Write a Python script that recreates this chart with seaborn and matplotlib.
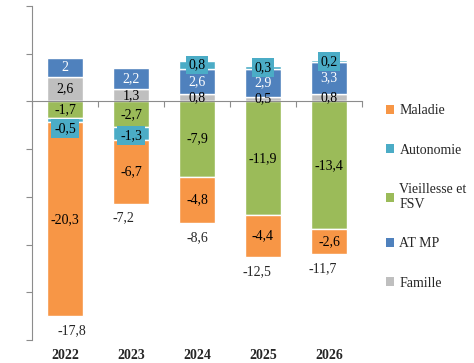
"""Stacked bars: balance by branch, 2022-2026."""

import matplotlib.pyplot as plt
import matplotlib.transforms as mtransforms
import numpy as np
import pandas as pd
import seaborn as sns
from matplotlib.patches import Patch

years = ["2022", "2023", "2024", "2025", "2026"]
famille = [2.6, 1.3, 0.8, 0.5, 0.8]
at_mp = [2.0, 2.2, 2.6, 2.9, 3.3]
vieillesse = [-1.7, -2.7, -7.9, -11.9, -13.4]
autonomie = [-0.5, -1.3, 0.8, 0.3, 0.2]
maladie = [-20.3, -6.7, -4.8, -4.4, -2.6]
totals = [-17.8, -7.2, -8.6, -12.5, -11.7]

COLORS = {
    "Maladie": "#F79646",
    "Autonomie": "#4BACC6",
    "Vieillesse et\nFSV": "#9BBB59",
    "AT MP": "#4F81BD",
    "Famille": "#BFBFBF",
}

sns.set_style("white")
plt.rcParams["font.family"] = ["Liberation Serif", "DejaVu Serif"]

series = [
    ("Famille", famille),
    ("AT MP", at_mp),
    ("Vieillesse et\nFSV", vieillesse),
    ("Autonomie", autonomie),
    ("Maladie", maladie),
]

# label nudges (data units) where a segment is too thin for its label
nudges = {("Autonomie", 0): -0.9, ("Autonomie", 1): -0.2}

fig = plt.figure(figsize=(4.74, 3.63), dpi=100)
ax = fig.add_axes([32 / 474, 23 / 363, 330 / 474, 334 / 363])

pos_base = np.zeros(len(years))
neg_base = np.zeros(len(years))
for name, values in series:
    vals = np.asarray(values, dtype=float)
    bottom = np.where(vals >= 0, pos_base, neg_base)
    df = pd.DataFrame({"year": years, "value": vals})
    sns.barplot(data=df, x="year", y="value", order=years, color=COLORS[name],
                saturation=1, width=0.56, bottom=bottom, ax=ax, errorbar=None)
    for i, v in enumerate(vals):
        label = f"{v:g}".replace(".", ",")
        y = bottom[i] + v / 2 + nudges.get((name, i), 0)
        kw = dict(ha="center", va="center", fontsize=10,
                  color="white" if name == "AT MP" else "black")
        if name == "Autonomie":
            kw["bbox"] = dict(boxstyle="square,pad=0.2", fc=COLORS[name], ec="none")
        ax.text(i, y, label, **kw)
    pos_base = np.where(vals >= 0, pos_base + vals, pos_base)
    neg_base = np.where(vals < 0, neg_base + vals, neg_base)

# totals written under each bar
total_dx = [7, -8, 0, -6, -6]
for i, t in enumerate(totals):
    ax.annotate(f"{t:g}".replace(".", ","), xy=(i, neg_base[i]),
                xytext=(total_dx[i] / 1.389, -10.5), textcoords="offset points",
                ha="center", va="center", fontsize=10)

ax.set_xlim(-0.5, len(years) - 0.5)
ax.set_ylim(-25, 10)
ax.set_yticks(np.arange(-25, 11, 5))
ax.set_yticklabels([])
ax.set_xticks(np.arange(len(years) + 1) - 0.5)
ax.set_xticklabels([])
ax.set_xlabel("")
ax.set_ylabel("")

for side in ("top", "right"):
    ax.spines[side].set_visible(False)
ax.spines["bottom"].set_position(("data", 0))
for side in ("left", "bottom"):
    ax.spines[side].set_color("#8C8C8C")
    ax.spines[side].set_linewidth(0.8)
ax.tick_params(axis="both", which="major", direction="out", length=4,
               width=0.8, color="#8C8C8C", left=True, bottom=True)

trans = mtransforms.blended_transform_factory(ax.transData, ax.transAxes)
for i, yr in enumerate(years):
    ax.text(i, -0.046, yr, transform=trans, ha="center", va="center",
            fontsize=10, fontweight="bold")

legend_order = ["Maladie", "Autonomie", "Vieillesse et\nFSV", "AT MP", "Famille"]
handles = [Patch(facecolor=COLORS[n], edgecolor="none", label=n) for n in legend_order]
fig.legend(handles=handles, loc="center left", bbox_to_anchor=(380 / 474, 1 - 197 / 363),
           frameon=False, fontsize=10, handlelength=0.6, handleheight=0.6,
           handletextpad=0.4, labelspacing=1.9, borderaxespad=0)

fig.savefig("out.png", dpi=100)
